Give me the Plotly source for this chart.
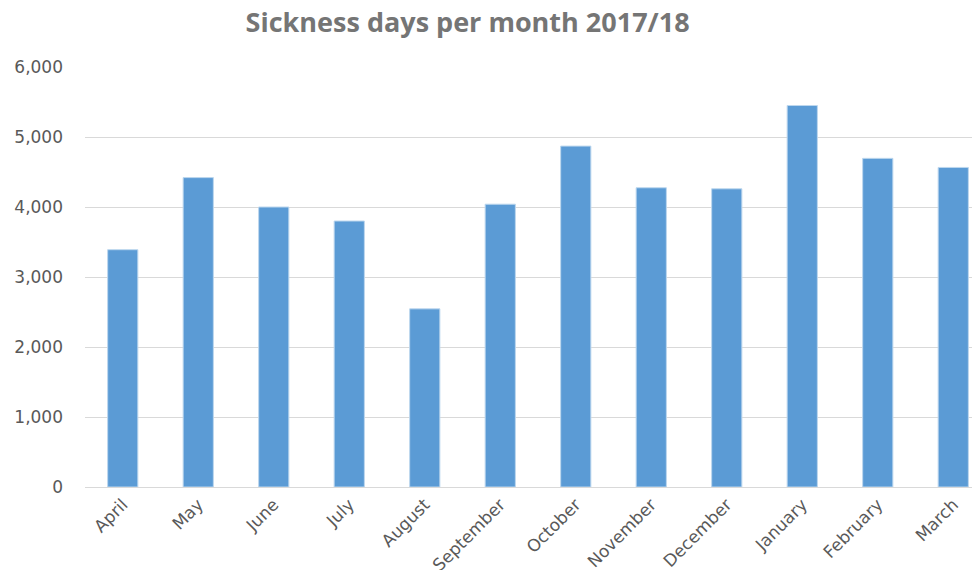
import plotly.graph_objects as go

months = ["April", "May", "June", "July", "August", "September",
          "October", "November", "December", "January", "February", "March"]
sickness_days = [3390, 4420, 4000, 3800, 2545, 4040,
                 4870, 4275, 4260, 5450, 4695, 4565]
y_ticks = [0, 1000, 2000, 3000, 4000, 5000, 6000]
y_tick_labels = ["0", "1,000", "2,000", "3,000", "4,000", "5,000", "6,000"]

fig = go.Figure(go.Bar(x=months, y=sickness_days, marker_color="#5B9BD5",
                       marker_line_color="#BDD7EE", marker_line_width=1))

# page has an 8px body margin, so offsets are compensated here
fig.update_layout(
    width=980, height=570,
    margin=dict(l=77, r=0, t=59, b=91, autoexpand=False),
    paper_bgcolor="white", plot_bgcolor="white",
    bargap=0.6,
    showlegend=False,
    font=dict(family="DejaVu Sans", color="#595959"),
    title=dict(text="<b>Sickness days per month 2017/18</b>",
               xref="container", yref="container",
               x=0.469, xanchor="center", y=0.975, yanchor="middle",
               font=dict(family="Open Sans", size=27, color="#757575")),
)
fig.update_xaxes(range=[-0.5, 11.46], tickangle=-45,
                 tickfont=dict(size=17, color="#595959"),
                 showline=True, linecolor="#D9D9D9", linewidth=1,
                 ticks="", showgrid=False)
fig.update_yaxes(range=[0, 6000], tickvals=y_ticks, ticktext=y_tick_labels,
                 tickfont=dict(size=17, color="#595959"),
                 showgrid=True, gridcolor="#D9D9D9", gridwidth=1,
                 zeroline=False, ticklabelstandoff=21)

fig.write_html("out.html")
